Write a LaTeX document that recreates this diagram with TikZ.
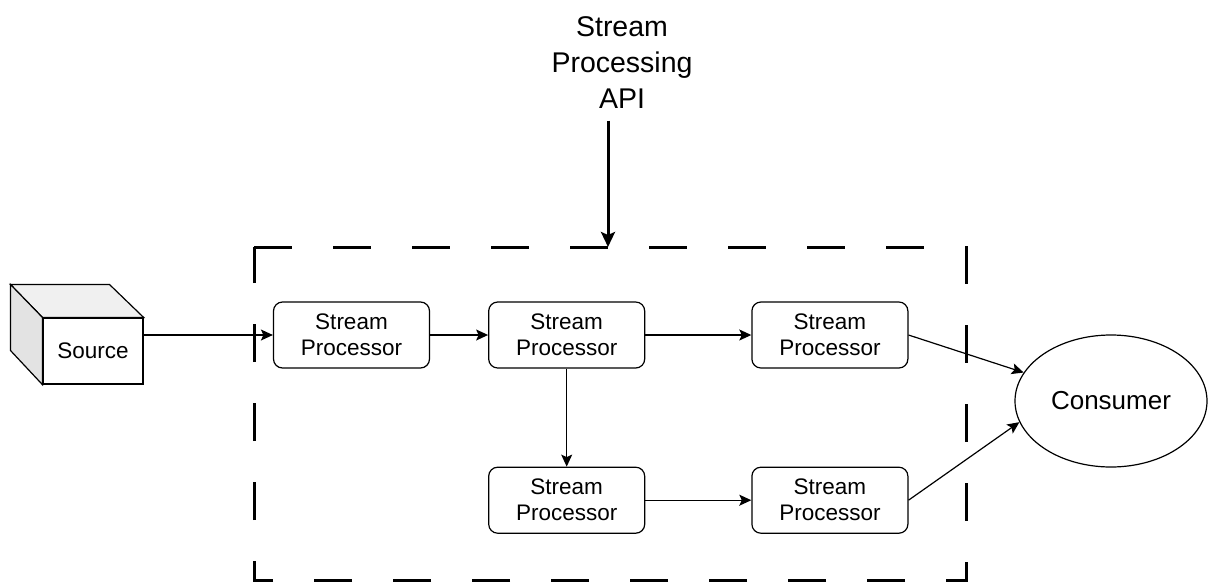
\documentclass[tikz,border=0pt]{standalone}
\usepackage{fontspec}
\setmainfont{Liberation Sans}
\usetikzlibrary{positioning,arrows.meta,shapes.geometric}

\begin{document}
\begin{tikzpicture}[x=1pt, y=-1pt,
  font=\fontsize{22.5}{26}\selectfont, line width=1.2pt,
  >={Stealth[length=12pt, width=11pt, inset=2.5pt]},
  proc/.style={draw, rounded corners=9pt, minimum width=156pt,
               minimum height=66pt, align=center, inner sep=0pt},
  src/.style={draw, fill=white, minimum width=100pt, minimum height=66pt},
  sink/.style={draw, ellipse, minimum width=192pt, minimum height=132pt,
               inner sep=0pt, font=\fontsize{26}{30}\selectfont},
  frame/.style={line width=3pt, dash pattern=on 38pt off 41pt},
  apiarrow/.style={-{Stealth[length=15pt, width=14pt, inset=3pt]},
                   line width=3pt, shorten <=11pt}]
\useasboundingbox (0,0) rectangle (1208,582);
% frame round the processors
\coordinate (ftl) at (254,247);
\coordinate (fbr) at (966,580);
\coordinate (ftop) at (608,247);
\draw[frame] (ftl) -- (ftl -| fbr) -- (fbr) -- (fbr -| ftl) -- cycle;
\node[align=center, inner sep=0pt, font=\fontsize{28.5}{36}\selectfont]
  (api) at (622,63) {Stream\\Processing\\API};
\draw[apiarrow] (api.south -| ftop) -- (ftop);
% source cube
\node[src] (src) at (93,351) {Source};
\draw[fill=gray!12] (src.north west) -- ++(-32,-33) -- ++(99,0)
  -- (src.north east) -- cycle;
\draw[fill=gray!22] (src.north west) -- ++(-32,-33) -- ++(0,66)
  -- (src.south west) -- cycle;
% processors
\node[proc] (p1) at (351.5,335) {Stream\\Processor};
\node[proc, right=58pt of p1] (p2) {Stream\\Processor};
\node[proc, right=106pt of p2] (p3) {Stream\\Processor};
\node[proc, below=98pt of p2] (p4) {Stream\\Processor};
\node[proc, right=106pt of p4] (p5) {Stream\\Processor};
\node[sink] (cons) at (1111,401) {Consumer};
\draw[->] (p1.west -| src.east) -- (p1.west);
\draw[->] (p1) -- (p2);
\draw[->] (p2) -- (p3);
\draw[->] (p2) -- (p4);
\draw[->] (p4) -- (p5);
\draw[->] (p3.east) -- (cons);
\draw[->] (p5.east) -- (cons.193);
\end{tikzpicture}
\end{document}
